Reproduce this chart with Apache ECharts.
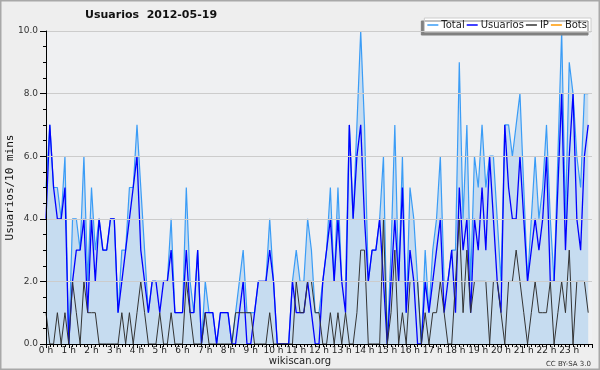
<!DOCTYPE html>
<html><head><meta charset="utf-8">
<script src="https://cdn.jsdelivr.net/npm/echarts@6/dist/echarts.min.js"></script>
<style>html,body{margin:0;padding:0;background:#eeeeee}#c{width:600px;height:370px}</style>
</head><body><div id="c"></div>
<script>
const xTickLabels = ['0 h','1 h','2 h','3 h','4 h','5 h','6 h','7 h','8 h','9 h','10 h','11 h','12 h','13 h','14 h','15 h','16 h','17 h','18 h','19 h','20 h','21 h','22 h','23 h'];
const yTickLabels = ['0.0','2.0','4.0','6.0','8.0','10.0'];
const seriesNames = ['Total','Usuarios','IP','Bots'];
// one value per 10 minutes, 00:00 .. 23:50
const total = [5,7,5,5,4,6,0,4,4,3, 6,2,5,3,4,3,3,4,4,1, 3,3,5,5,7,5,3,1,2,2, 2,2,2,4,1,1,1,5,2,1,
  3,0,2,1,1,0,1,1,1,0, 1,2,3,1,1,1,2,2,2,4, 2,0,0,0,0,2,3,2,2,4, 3,1,1,2,3,5,2,5,2,2,
  7,4,7,10,7,2,3,3,4,6, 0,3,7,2,6,1,5,4,2,0, 3,1,3,4,6,2,2,3,3,9, 4,7,2,6,5,7,5,6,6,4,
  2,7,7,6,7,8,5,2,4,6, 4,5,7,4,2,6,10,4,9,8, 6,5,8,8];
const usuarios = [4,7,5,4,4,5,0,2,3,3, 4,1,4,2,4,3,3,4,4,1, 2,3,4,5,6,3,2,1,2,2, 1,2,2,3,1,1,1,3,1,1,
  3,0,1,1,1,0,1,1,1,0, 0,1,2,0,0,1,2,2,2,3, 2,0,0,0,0,2,1,1,1,2, 1,0,0,2,3,4,2,4,2,1,
  7,4,6,7,4,2,3,3,4,2, 0,2,4,2,5,1,3,2,0,0, 2,1,2,3,4,1,2,3,1,5, 3,4,1,4,3,5,3,6,4,2,
  1,7,5,4,4,6,4,2,3,4, 3,4,6,2,2,5,8,3,6,8, 4,3,6,7];
const ip = [1,0,0,1,0,1,0,2,1,0, 2,1,1,1,0,0,0,0,0,0, 1,0,1,0,1,2,1,0,0,0, 1,0,0,1,0,0,0,2,1,0,
  0,0,1,0,0,0,0,0,0,0, 1,1,1,1,1,0,0,0,0,1, 0,0,0,0,0,0,2,1,1,2, 2,1,1,0,0,1,0,1,0,1,
  0,0,1,3,3,0,0,0,0,4, 0,1,3,0,1,0,2,2,2,0, 1,0,1,1,2,1,0,0,2,4, 1,3,1,2,2,2,2,0,2,2,
  1,0,2,2,3,2,1,0,1,2, 1,1,1,2,0,1,2,1,3,0, 2,2,2,1];
const bots = [0,0,0,0,0,0,0,0,0,0, 0,0,0,0,0,0,0,0,0,0, 0,0,0,0,0,0,0,0,0,0, 0,0,0,0,0,0,0,0,0,0,
  0,0,0,0,0,0,0,0,0,0, 0,0,0,0,0,0,0,0,0,0, 0,0,0,0,0,0,0,0,0,0, 0,0,0,0,0,0,0,0,0,0,
  0,0,0,0,0,0,0,0,0,0, 0,0,0,0,0,0,0,0,0,0, 0,0,0,0,0,0,0,0,0,0, 0,0,0,0,0,0,0,0,0,0,
  0,0,0,0,0,0,0,0,0,0, 0,0,0,0,0,0,0,0,0,0, 0,0,0,0];

const toXY = arr => arr.map((v, i) => [i / 6, v]);
const chart = echarts.init(document.getElementById('c'), null, {renderer: 'canvas'});
const F = 'DejaVu Sans';
chart.setOption({
  backgroundColor: '#eeeeee',
  animation: false,
  title: {
    text: 'Usuarios  2012-05-19', left: 85, top: 10, padding: 0,
    textStyle: {fontFamily: F, fontWeight: 'bold', fontSize: 11, color: '#111'}
  },
  legend: {
    data: seriesNames, right: 9, top: 18, padding: [2, 4, 2, 3], itemGap: 2,
    itemWidth: 11, itemHeight: 1.5, icon: 'rect',
    backgroundColor: '#ffffff', borderColor: '#cccccc', borderWidth: 1,
    shadowColor: '#808080', shadowBlur: 0, shadowOffsetX: -3, shadowOffsetY: 3,
    textStyle: {fontFamily: F, fontSize: 10, color: '#222', padding: [0, 0, 0, -2]}
  },
  grid: {left: 46, right: 8, top: 31, bottom: 26, outerBoundsMode: 'none', containLabel: false,
    show: true, backgroundColor: '#eff0f2', borderWidth: 0},
  xAxis: {
    type: 'value', min: 0, max: 24, interval: 1, z: 5,
    axisLine: {show: true, lineStyle: {color: '#000', width: 1}},
    axisTick: {show: true, length: 4, lineStyle: {color: '#000'}},
    minorTick: {show: true, splitNumber: 6, length: 3, lineStyle: {color: '#000'}},
    splitLine: {show: false},
    axisLabel: {fontFamily: F, fontSize: 9, color: '#222', margin: 2,
      formatter: v => (v < 24 ? xTickLabels[Math.round(v)] : '')}
  },
  yAxis: {
    type: 'value', min: 0, max: 10, interval: 2, z: 5,
    name: 'Usuarios/10 mins', nameLocation: 'middle', nameGap: 30, nameRotate: 90,
    nameMoveOverlap: false,
    nameTextStyle: {fontFamily: 'DejaVu Sans Mono', fontSize: 11, color: '#111'},
    axisLine: {show: true, lineStyle: {color: '#000', width: 1}},
    axisTick: {show: true, length: 6, lineStyle: {color: '#000'}},
    minorTick: {show: true, splitNumber: 4, length: 3, lineStyle: {color: '#000'}},
    splitLine: {show: true, lineStyle: {color: '#cccccc', width: 1}},
    axisLabel: {fontFamily: F, fontSize: 9, color: '#333', margin: 8,
      formatter: v => yTickLabels[Math.round(v / 2)]}
  },
  series: [
    {name: 'Total', type: 'line', data: toXY(total), symbol: 'none', z: 2,
      lineStyle: {color: '#3a9cf6', width: 1.2}, itemStyle: {color: '#3a9cf6'},
      areaStyle: {color: '#c6dcf0', opacity: 1}},
    {name: 'Usuarios', type: 'line', data: toXY(usuarios), symbol: 'none', z: 3,
      lineStyle: {color: '#0000ff', width: 1.3}, itemStyle: {color: '#0000ff'}},
    {name: 'IP', type: 'line', data: toXY(ip), symbol: 'none', z: 4,
      lineStyle: {color: '#333333', width: 1}, itemStyle: {color: '#333333'}},
    {name: 'Bots', type: 'line', data: toXY(bots), symbol: 'none', z: 1,
      lineStyle: {color: '#ff9900', width: 1}, itemStyle: {color: '#ff9900'}}
  ],
  graphic: [
    {type: 'rect', shape: {x: 0.5, y: 0.5, width: 599, height: 369}, style: {fill: null, stroke: '#a8a8a8', lineWidth: 2}},
    {type: 'text', left: 'center', top: 356, style: {text: 'wikiscan.org', font: '10px "DejaVu Sans"', fill: '#222'}},
    {type: 'text', right: 9, top: 361, style: {text: 'CC BY-SA 3.0', font: '7px "DejaVu Sans"', fill: '#333'}}
  ]
});
</script></body></html>
